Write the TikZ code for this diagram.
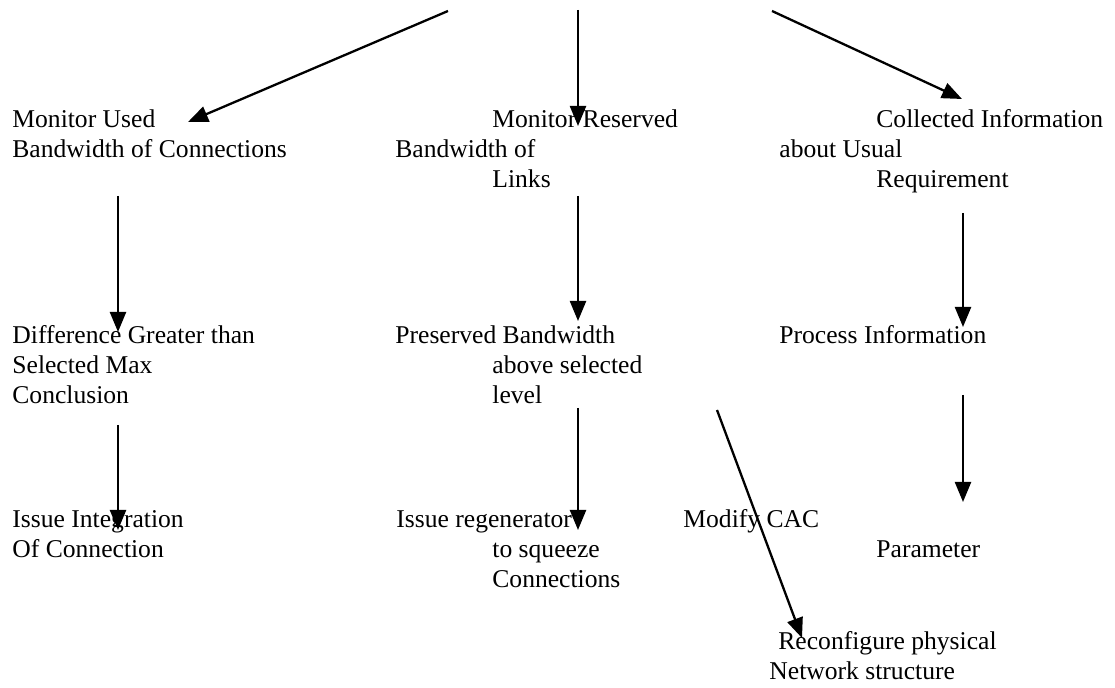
\documentclass[tikz,border=0pt]{standalone}
\usepackage{fontspec}
\setmainfont{Liberation Serif}
\usetikzlibrary{arrows.meta}

\begin{document}
\begin{tikzpicture}[x=0.5pt,y=-0.5pt,
    lbl/.style={anchor=base west,inner sep=0pt,font=\fontsize{12.8}{15}\selectfont},
    arrow/.style={-{Triangle[length=10pt,width=8pt]},line width=1.15pt}
]
\useasboundingbox (0,0) rectangle (1115,688);

% Top level
\node[lbl] (mu1) at (12,128) {Monitor Used};
\node[lbl] (mu2) at (12,158) {Bandwidth of Connections};
\node[lbl] (mr1) at (492,128) {Monitor Reserved};
\node[lbl] (mr2) at (395,158) {Bandwidth of};
\node[lbl] (mr3) at (492,188) {Links};
\node[lbl] (ci1) at (876,128) {Collected Information};
\node[lbl] (ci2) at (779,158) {about Usual};
\node[lbl] (ci3) at (876,188) {Requirement};

% Middle level
\node[lbl] (dg1) at (12,344) {Difference Greater than};
\node[lbl] (dg2) at (12,374) {Selected Max};
\node[lbl] (dg3) at (12,404) {Conclusion};
\node[lbl] (pb1) at (395,344) {Preserved Bandwidth};
\node[lbl] (pb2) at (492,374) {above selected};
\node[lbl] (pb3) at (492,404) {level};
\node[lbl] (pi1) at (779,344) {Process Information};

% Bottom level
\node[lbl] (ii1) at (12,528) {Issue Integration};
\node[lbl] (ii2) at (12,558) {Of Connection};
\node[lbl] (ir1) at (396,528) {Issue regenerator};
\node[lbl] (ir2) at (492,558) {to squeeze};
\node[lbl] (ir3) at (492,588) {Connections};
\node[lbl] (mc1) at (683,528) {Modify CAC};
\node[lbl] (mc2) at (876,558) {Parameter};
\node[lbl] (rp1) at (778,650) {Reconfigure physical};
\node[lbl] (rp2) at (769,680) {Network structure};

% Arrow end points
\coordinate (topL) at (448,11);
\coordinate (topM) at (578,10);
\coordinate (topR) at (772,11);
\coordinate (muT) at (188,122);
\coordinate (mrT) at (578,126);
\coordinate (ciT) at (962,99);
\coordinate (muB) at (118,196);
\coordinate (mrB) at (578,196);
\coordinate (ciB) at (963,213);
\coordinate (dgT) at (118,332);
\coordinate (pbT) at (578,321);
\coordinate (piT) at (963,327);
\coordinate (dgB) at (118,425);
\coordinate (pbB) at (578,408);
\coordinate (pbC) at (717,410);
\coordinate (piB) at (963,395);
\coordinate (iiT) at (118,530);
\coordinate (irT) at (578,530);
\coordinate (mcT) at (963,502);
\coordinate (rpT) at (802,638);

% Connections
\draw[arrow] (topL) -- (muT);
\draw[arrow] (topM) -- (mrT);
\draw[arrow] (topR) -- (ciT);
\draw[arrow] (muB) -- (dgT);
\draw[arrow] (mrB) -- (pbT);
\draw[arrow] (ciB) -- (piT);
\draw[arrow] (dgB) -- (iiT);
\draw[arrow] (pbB) -- (irT);
\draw[arrow] (piB) -- (mcT);
\draw[arrow] (pbC) -- (rpT);

\end{tikzpicture}
\end{document}
